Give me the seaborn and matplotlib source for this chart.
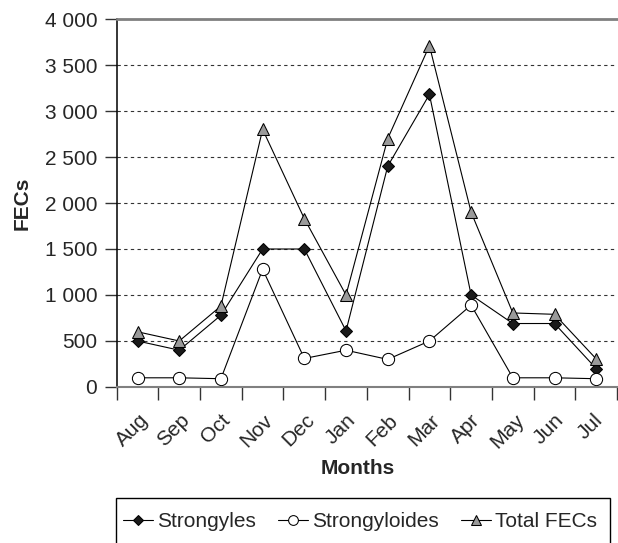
import matplotlib
matplotlib.use('Agg')
import matplotlib.pyplot as plt
import matplotlib.transforms as mtransforms
import seaborn as sns
import numpy as np
import pandas as pd
from matplotlib.patches import Rectangle
from matplotlib.ticker import FuncFormatter


# values
months = ['Aug', 'Sep', 'Oct', 'Nov', 'Dec', 'Jan',
          'Feb', 'Mar', 'Apr', 'May', 'Jun', 'Jul']
strongyles = [500, 400, 780, 1500, 1500, 610, 2400, 3180, 1000, 690, 690, 200]
strongyloides = [100, 100, 90, 1280, 310, 400, 300, 500, 890, 100, 100, 90]
total_fecs = [600, 500, 880, 2800, 1830, 1000, 2700, 3710, 1900, 805, 790, 305]
series_names = ['Strongyles', 'Strongyloides', 'Total FECs']
y_ticks = [0, 500, 1000, 1500, 2000, 2500, 3000, 3500, 4000]

sns.set_style('ticks')
plt.rcParams['font.family'] = ['Liberation Sans', 'DejaVu Sans']
font_size = 15

# long-form table for seaborn
wide = pd.DataFrame({'month': months,
                     'Strongyles': strongyles,
                     'Strongyloides': strongyloides,
                     'Total FECs': total_fecs})
data = wide.melt(id_vars='month', var_name='series', value_name='fec')

marker_styles = {
    'Strongyles': dict(marker='D', markersize=6.3, markerfacecolor='#1a1a1a'),
    'Strongyloides': dict(marker='o', markersize=8.8, markerfacecolor='white'),
    'Total FECs': dict(marker='^', markersize=9, markerfacecolor='#9a9a9a'),
}

fig = plt.figure(figsize=(6.18, 5.43), dpi=100)
ax = fig.add_axes([0.1888, 0.2873, 0.8097, 0.6777])

for name in series_names:
    sns.lineplot(data=data[data.series == name], x='month', y='fec',
                 color='black', linewidth=0.8, sort=False, errorbar=None,
                 markeredgecolor='black', markeredgewidth=0.75,
                 label=name, legend=False, ax=ax, **marker_styles[name])

# axes limits and ticks
ax.set_xlim(-0.5, len(months) - 0.5)
ax.set_ylim(y_ticks[0], y_ticks[-1])
ax.set_yticks(y_ticks)
ax.yaxis.set_major_formatter(FuncFormatter(lambda v, p: '{:,}'.format(int(v)).replace(',', ' ')))
ax.set_xticks(np.arange(-0.5, len(months), 1.0))
ax.set_xticklabels([])
ax.set_xticks(np.arange(len(months)), minor=True)
ax.set_xticklabels(months, minor=True, rotation=45, ha='center')
ax.tick_params(axis='x', which='major', length=9.5, width=1, color='#333333')
ax.tick_params(axis='x', which='minor', length=0, pad=17, labelsize=font_size)
ax.tick_params(axis='y', length=8.5, width=1, color='#333333', pad=5.5, labelsize=font_size)

# nudge month labels a little to the left
shift = mtransforms.ScaledTranslation(-4 / 72, 0, fig.dpi_scale_trans)
for lbl in ax.get_xticklabels(minor=True):
    lbl.set_transform(lbl.get_transform() + shift)

# dashed horizontal grid
ax.yaxis.grid(True, linestyle=(0, (3, 3)), color='#333333', linewidth=0.8)
ax.set_axisbelow(True)

# spines
ax.spines['right'].set_visible(False)
ax.spines['top'].set_color('#808080')
ax.spines['top'].set_linewidth(2)
ax.spines['bottom'].set_color('#808080')
ax.spines['bottom'].set_linewidth(1.5)
ax.spines['left'].set_color('black')
ax.spines['left'].set_linewidth(1.1)

# labels
ax.set_xlabel('Months', fontsize=font_size, fontweight='bold')
ax.set_ylabel('FECs', fontsize=font_size, fontweight='bold')
ax.xaxis.set_label_coords(0.482, -0.196)
ax.yaxis.set_label_coords(-0.169, 0.5)

# legend below the plot, its box runs off the bottom edge
handles, labels = ax.get_legend_handles_labels()
leg = fig.legend(handles, labels, loc='upper left',
                 bbox_to_anchor=(123 / 618, 1 - 512 / 543, 474 / 618, 0),
                 mode='expand', ncol=3, frameon=False, fontsize=font_size,
                 borderpad=0, handlelength=1.45, handletextpad=0.2,
                 markerscale=0.8, borderaxespad=0)
fig.add_artist(Rectangle((116 / 618, -0.05), 494 / 618, 0.05 + 1 - 498 / 543,
                         transform=fig.transFigure, fill=False,
                         edgecolor='black', linewidth=1.0))

fig.savefig('out.png', dpi=100)
